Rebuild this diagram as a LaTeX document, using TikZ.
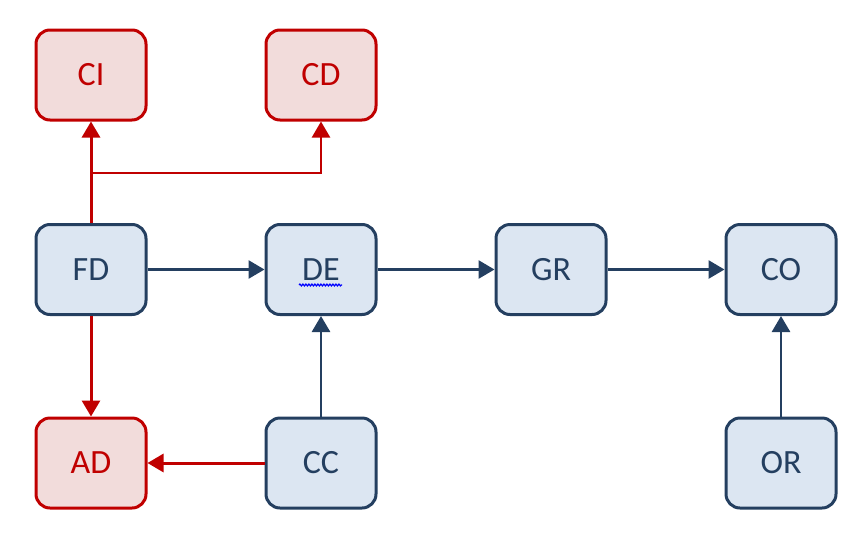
\documentclass[tikz,border=0pt]{standalone}
\usepackage{fontspec}
\setmainfont{Carlito}
\usetikzlibrary{arrows.meta,decorations.pathmorphing}
\definecolor{redline}{HTML}{C00000}
\definecolor{redfill}{HTML}{F2DCDB}
\definecolor{blueline}{HTML}{243F60}
\definecolor{bluefill}{HTML}{DCE6F2}
\tikzset{
  box/.style={rounded corners=14pt, minimum width=110pt, minimum height=90pt,
    line width=3pt, font=\fontsize{34}{38}\selectfont, inner sep=0pt},
  redbox/.style={box, draw=redline, fill=redfill, text=redline},
  bluebox/.style={box, draw=blueline, fill=bluefill, text=blueline},
  redarrow/.style={draw=redline, line width=3pt, -{Triangle[length=16pt,width=18pt]}},
  bluearrow/.style={draw=blueline, line width=2.8pt, -{Triangle[length=16pt,width=18pt]}},
}
\begin{document}
\begin{tikzpicture}[x=1pt,y=-1pt]
\useasboundingbox (0,0) rectangle (861,541);
% nodes
\node[redbox]  (CI) at (91,75)    {CI};
\node[redbox]  (CD) at (321,75)   {CD};
\node[bluebox] (FD) at (91,269.5) {FD};
\node[bluebox] (DE) at (321,269.5) {DE};
\node[bluebox] (GR) at (551,269.5) {GR};
\node[bluebox] (CO) at (781,269.5) {CO};
\node[redbox]  (AD) at (91,463)   {AD};
\node[bluebox] (CC) at (321,463)  {CC};
\node[bluebox] (OR) at (781,463)  {OR};
% spell-check squiggle under DE
\draw[blue, line width=1.2pt, decorate, decoration={snake, amplitude=0.9pt, segment length=3pt}]
  (299,285) -- (342,285);
% red connectors
\coordinate (br) at (91,173);
\draw[redarrow] (FD.north) -- (CI.south);
\draw[redarrow, line width=2.4pt] (br) -- (br -| CD.south) -- (CD.south);
\draw[redarrow] (FD.south) -- (AD.north);
\draw[redarrow] (CC.west) -- (AD.east);
% blue connectors
\draw[bluearrow] (FD.east) -- (DE.west);
\draw[bluearrow] (DE.east) -- (GR.west);
\draw[bluearrow] (GR.east) -- (CO.west);
\draw[bluearrow] (CC.north) -- (DE.south);
\draw[bluearrow] (OR.north) -- (CO.south);
\end{tikzpicture}
\end{document}
